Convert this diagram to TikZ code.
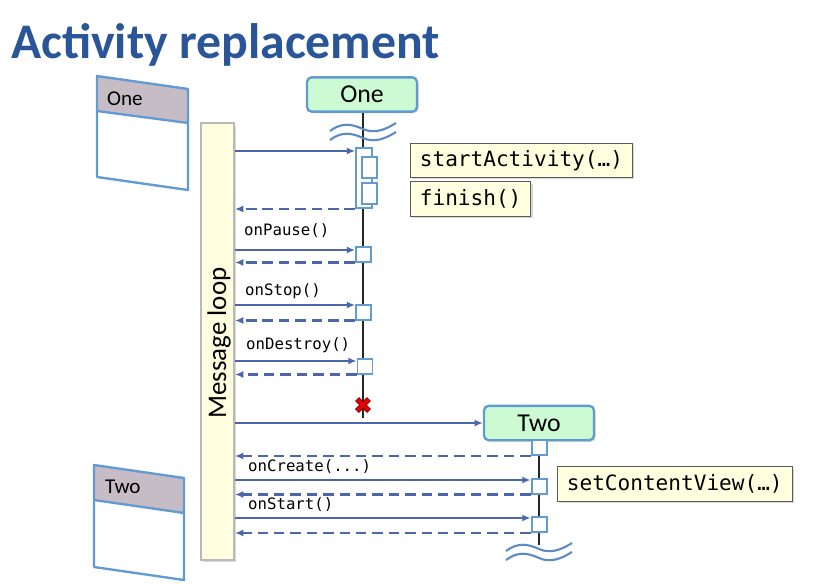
\documentclass[tikz,border=0pt]{standalone}
\usepackage{fontspec}
\setmainfont{Carlito}
\setmonofont{DejaVu Sans Mono}
\usetikzlibrary{positioning, arrows.meta, calc, shadows}

\definecolor{titleblue}{RGB}{42,86,153}
\definecolor{linkblue}{RGB}{74,102,172}
\definecolor{frameblue}{RGB}{98,155,210}
\definecolor{headgreen}{RGB}{204,250,210}
\definecolor{noteyellow}{RGB}{255,255,224}
\definecolor{winhead}{RGB}{198,188,198}
\definecolor{crossred}{RGB}{230,0,0}

\tikzset{
  lifehead/.style={draw=frameblue, line width=2pt, fill=headgreen, rounded corners=4pt,
    minimum width=3.3cm, minimum height=1.03cm, font=\fontsize{22}{24}\selectfont,
    drop shadow={opacity=0.25, shadow xshift=1.5pt, shadow yshift=-1.5pt}},
  actbox/.style={draw=frameblue, fill=white, line width=1.7pt, inner sep=0pt,
    minimum width=0.45cm, minimum height=0.45cm},
  note/.style={draw=gray!70!black, fill=noteyellow, line width=0.9pt, anchor=west,
    inner xsep=0.28cm, minimum height=1.03cm, font=\ttfamily\fontsize{18}{20}\selectfont,
    drop shadow={opacity=0.3, shadow xshift=1.5pt, shadow yshift=-1.5pt}},
  call/.style={anchor=west, inner sep=0pt, font=\ttfamily\fontsize{13.4}{15}\selectfont},
  msg/.style={draw=linkblue, line width=1.8pt, -{Latex[length=7pt, width=6pt]}},
  ret/.style={msg, dash pattern=on 9pt off 5pt},
  lifeline/.style={draw=gray!30!black, line width=0.9pt},
  winframe/.style={draw=frameblue, line width=2pt, line join=round},
  wintext/.style={anchor=west, font=\fontsize{18}{20}\selectfont},
  wavebreak/.pic={
    \draw[frameblue!70!linkblue, line width=1.8pt]
      (-33,2) .. controls (-21,-7) and (-11,-5) .. (0,0) .. controls (11,5) and (22,1) .. (33,-6);
    \draw[frameblue!70!linkblue, line width=1.8pt]
      (-33,11) .. controls (-21,2) and (-11,4) .. (0,9) .. controls (11,14) and (22,10) .. (33,3);
  }
}

\begin{document}
\begin{tikzpicture}[x=0.03cm, y=-0.03cm]
    \useasboundingbox (0,0) rectangle (834,583);

    % Title
    \node[anchor=west, inner sep=0pt, text=titleblue, font=\bfseries\fontsize{42.5}{44}\selectfont]
      (title) at (11,45) {Activity replacement};

    % Window sketches
    \fill[winhead] (97,76) -- (188,89) -- (188,123) -- (97,111) -- cycle;
    \fill[white] (97,111) -- (188,123) -- (188,190) -- (97,177) -- cycle;
    \draw[winframe] (97,76) -- (188,89) -- (188,190) -- (97,177) -- cycle;
    \draw[winframe] (97,111) -- (188,123);
    \node[wintext] (winOne) at (103,99) {One};

    \fill[winhead] (94,465) -- (184,478) -- (184,513) -- (94,500) -- cycle;
    \fill[white] (94,500) -- (184,513) -- (184,580) -- (94,567) -- cycle;
    \draw[winframe] (94,465) -- (184,478) -- (184,580) -- (94,567) -- cycle;
    \draw[winframe] (94,500) -- (184,513);
    \node[wintext] (winTwo) at (101,487) {Two};

    % Message loop
    \node[draw=gray!55, line width=1.8pt, fill=noteyellow, minimum width=0.99cm, minimum height=13.1cm,
      drop shadow={opacity=0.3, shadow xshift=2pt, shadow yshift=-2pt}]
      (loop) at (217.5,341.5) {};
    \node[rotate=90, font=\fontsize{23}{25}\selectfont] (loopText) at (219,343) {Message loop};

    % Lifeline One
    \node[lifehead] (oneHead) at (362,94.5) {One};
    \coordinate (crossOne) at (363,405);
    \draw[lifeline] (oneHead.south -| crossOne) -- ($(crossOne)+(0,13)$);
    \pic at (363,129) {wavebreak};

    \node[actbox, minimum height=1.8cm, minimum width=0.48cm] (actOne) at (364,178) {};
    \node[actbox, minimum height=0.63cm] (startBox) at (369.5,167.5) {};
    \node[actbox, minimum height=0.63cm] (finishBox) at (369.5,193.5) {};
    \coordinate (startIn) at (363,151);
    \draw[msg] (loop.east |- startIn) -- (actOne.west |- startIn);
    \draw[ret] (actOne.south west) -- (loop.east |- actOne.south);

    \node[note] (startNote) at (410,160.5) {startActivity(…)};
    \node[note] (finishNote) at (410,199) {finish()};

    % onPause / onStop / onDestroy
    \node[actbox] (pause) at (363.5,254) {};
    \coordinate (pauseIn) at (363,250);
    \node[call] (pauseLbl) at (244,231) {onPause()};
    \draw[msg] (loop.east |- pauseIn) -- (pause.west |- pauseIn);
    \draw[ret] (pause.south west) -- (loop.east |- pause.south);

    \node[actbox] (stop) at (363.5,312) {};
    \coordinate (stopIn) at (363,305);
    \node[call] (stopLbl) at (245,291) {onStop()};
    \draw[msg] (loop.east |- stopIn) -- (stop.west |- stopIn);
    \draw[ret] (stop.south west) -- (loop.east |- stop.south);

    \node[actbox] (destroy) at (365,366) {};
    \coordinate (destroyIn) at (363,361);
    \node[call] (destroyLbl) at (246,345) {onDestroy()};
    \draw[msg] (loop.east |- destroyIn) -- (destroy.west |- destroyIn);
    \draw[ret] (destroy.south west) -- (loop.east |- destroy.south);

    % End of One
    \draw[red!55!black, line width=4.8pt] ($(crossOne)+(-6,-6)$) -- ($(crossOne)+(6,6)$);
    \draw[red!55!black, line width=4.8pt] ($(crossOne)+(-6,6)$) -- ($(crossOne)+(6,-6)$);
    \draw[crossred, line width=2.8pt] ($(crossOne)+(-5.5,-5.5)$) -- ($(crossOne)+(5.5,5.5)$);
    \draw[crossred, line width=2.8pt] ($(crossOne)+(-5.5,5.5)$) -- ($(crossOne)+(5.5,-5.5)$);

    % Lifeline Two
    \node[lifehead] (twoHead) at (539,423) {Two};
    \draw[msg] (loop.east |- twoHead) -- (twoHead.west);
    \coordinate (twoEnd) at (539,545);
    \draw[lifeline] (twoHead.south) -- (twoEnd);
    \pic at (539,549) {wavebreak};

    \node[actbox] (create0) at (539,447.5) {};
    \draw[ret] (create0.south west) -- (loop.east |- create0.south);

    \node[actbox] (create) at (539,486) {};
    \coordinate (createIn) at (539,480);
    \node[call] (createLbl) at (248,467) {onCreate(...)};
    \draw[msg] (loop.east |- createIn) -- (create.west |- createIn);
    \draw[ret] (create.south west) -- (loop.east |- create.south);

    \node[actbox] (start) at (539,524.5) {};
    \coordinate (startTwoIn) at (539,518);
    \node[call] (startLbl) at (248,505) {onStart()};
    \draw[msg] (loop.east |- startTwoIn) -- (start.west |- startTwoIn);
    \draw[ret] (start.south west) -- (loop.east |- start.south);

    \node[note] (viewNote) at (557,484) {setContentView(…)};
\end{tikzpicture}
\end{document}
